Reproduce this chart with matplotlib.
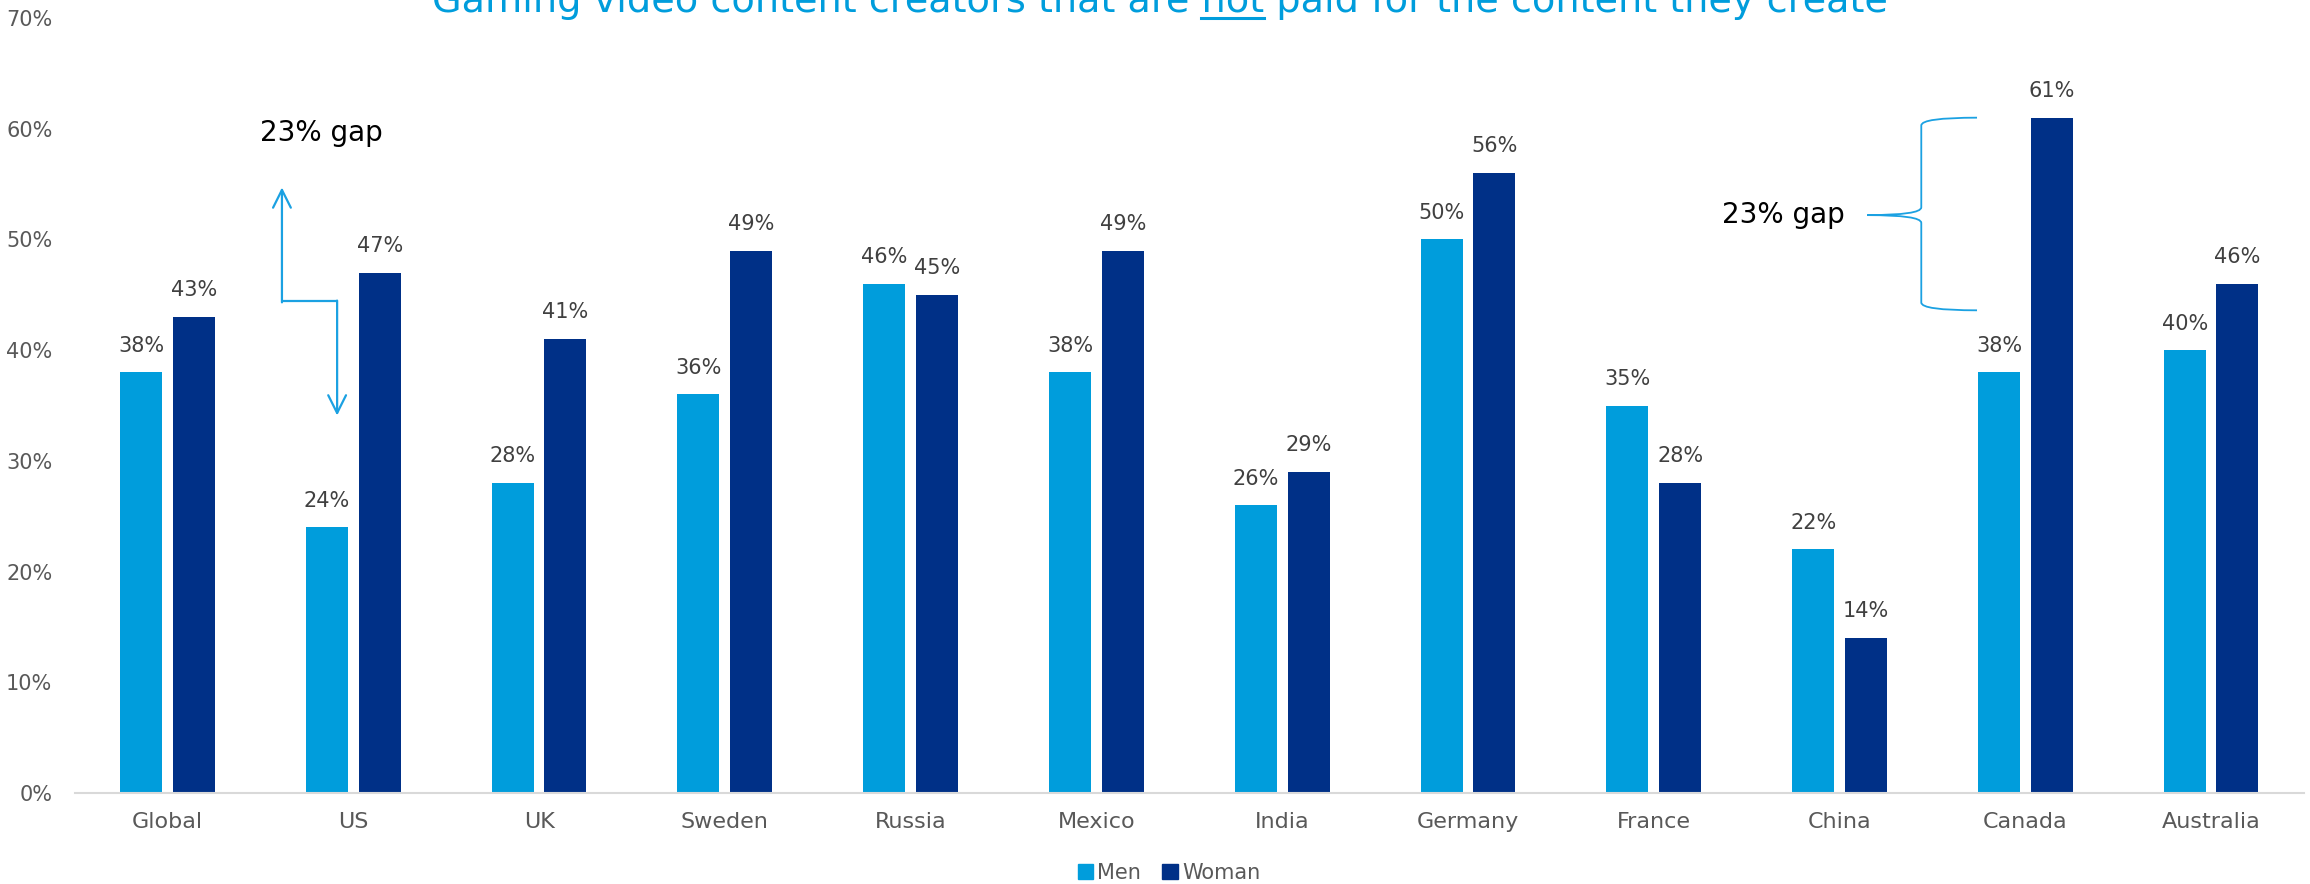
import numpy as np
import matplotlib
matplotlib.use("Agg")
import matplotlib.pyplot as plt
from matplotlib.path import Path
from matplotlib.patches import PathPatch, Patch

# Dados
countries = ["Global", "US", "UK", "Sweden", "Russia", "Mexico", "India",
             "Germany", "France", "China", "Canada", "Australia"]
men = [38, 24, 28, 36, 46, 38, 26, 50, 35, 22, 38, 40]
woman = [43, 47, 41, 49, 45, 49, 29, 56, 28, 14, 61, 46]
yticks = [0, 10, 20, 30, 40, 50, 60, 70]

MEN_C = "#009DDC"
WOMAN_C = "#003087"
ANN_C = "#1BA1E2"
TXT_C = "#404040"
TICK_C = "#595959"

plt.rcParams["font.family"] = ["DejaVu Sans"]

fig = plt.figure(figsize=(23.1, 8.84), dpi=100)
ax = fig.add_axes([0.0323, 0.1029, 0.9651, 0.8767])

x = np.arange(len(countries))
w = 0.226
off = 0.142
ax.bar(x - off, men, w, color=MEN_C, label="Men")
ax.bar(x + off, woman, w, color=WOMAN_C, label="Woman")

for xi, m, f in zip(x, men, woman):
    ax.annotate(f"{m}%", (xi - off, m), xytext=(0, 12), textcoords="offset points",
                ha="center", va="bottom", fontsize=15, color=TXT_C)
    ax.annotate(f"{f}%", (xi + off, f), xytext=(0, 12), textcoords="offset points",
                ha="center", va="bottom", fontsize=15, color=TXT_C)

ax.set_xlim(-0.5, len(countries) - 0.5)
ax.set_ylim(0, 70)
ax.set_yticks(yticks)
ax.set_yticklabels([f"{v}%" for v in yticks])
ax.set_xticks(x)
ax.set_xticklabels(countries)
ax.tick_params(axis="y", length=0, pad=16, labelsize=15, labelcolor=TICK_C)
ax.tick_params(axis="x", length=0, pad=14, labelsize=16, labelcolor=TICK_C)
for s in ["top", "right", "left"]:
    ax.spines[s].set_visible(False)
ax.spines["bottom"].set_color("#D9D9D9")
ax.spines["bottom"].set_linewidth(1.5)

# Anotacao US: seta em Z
x1, x2 = 0.616, 0.913
y_top, y_mid, y_bot = 54.7, 44.4, 34.1
ax.plot([x1, x2], [y_mid, y_mid], color=ANN_C, lw=1.6, solid_capstyle="butt")
ax.annotate("", xy=(x1, y_top), xytext=(x1, y_mid - 0.08),
            arrowprops=dict(arrowstyle="->", color=ANN_C, lw=1.6, mutation_scale=32,
                            shrinkA=0, shrinkB=0))
ax.annotate("", xy=(x2, y_bot), xytext=(x2, y_mid + 0.08),
            arrowprops=dict(arrowstyle="->", color=ANN_C, lw=1.6, mutation_scale=32,
                            shrinkA=0, shrinkB=0))
ax.text(0.50, 59.6, "23% gap", fontsize=20, color="black", ha="left", va="center")

# Anotacao Canada: chave
xt, xv, xe = 9.15, 9.44, 9.74
top, bot, mid = 61.0, 43.6, 52.2
r = 0.7
verts = [(xe, top), (xv, top), (xv, top - r), (xv, mid + r), (xv, mid), (xt, mid),
         (xt, mid), (xv, mid), (xv, mid - r), (xv, bot + r), (xv, bot), (xe, bot)]
codes = [Path.MOVETO, Path.CURVE3, Path.CURVE3, Path.LINETO, Path.CURVE3, Path.CURVE3,
         Path.MOVETO, Path.CURVE3, Path.CURVE3, Path.LINETO, Path.CURVE3, Path.CURVE3]
ax.add_patch(PathPatch(Path(verts, codes), fill=False, edgecolor=ANN_C, lw=1.3))
ax.text(9.03, mid, "23% gap", fontsize=20, color="black", ha="right", va="center")

# Titulo com "not" sublinhado
title = "Gaming video content creators that are not paid for the content they create"
pre = "Gaming video content creators that are not"
tx, ty = 0.502, 1 - 12 / 884
tt = fig.text(tx, ty, title, fontsize=27.5, color=MEN_C, ha="center", va="baseline")
fig.canvas.draw()
r_ = fig.canvas.get_renderer()
bb = tt.get_window_extent(r_)
tmp = fig.text(0, 0, pre, fontsize=27.5)
w_pre = tmp.get_window_extent(r_).width
tmp.set_text("not")
w_not = tmp.get_window_extent(r_).width
tmp.remove()
u0 = (bb.x0 + w_pre - w_not) / fig.bbox.width
u1 = (bb.x0 + w_pre) / fig.bbox.width
uy = 1 - 17.5 / 884
fig.add_artist(plt.Line2D([u0, u1], [uy, uy], color=MEN_C, lw=2.2, transform=fig.transFigure))

# Legenda
handles = [Patch(color=MEN_C), Patch(color=WOMAN_C)]
fig.legend(handles, ["Men", "Woman"], loc="center", bbox_to_anchor=(0.506, 0.0124),
           ncol=2, frameon=False, fontsize=15, labelcolor=TICK_C,
           handlelength=0.75, handleheight=0.75, handletextpad=0.2, columnspacing=1.0)

fig.savefig("out.png", dpi=100)
